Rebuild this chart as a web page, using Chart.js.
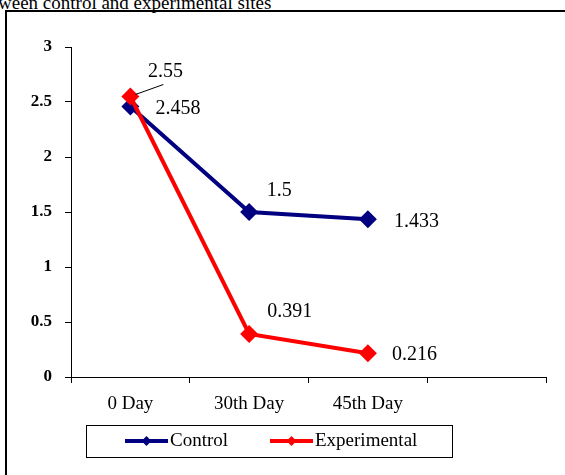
<!DOCTYPE html>
<html>
<head>
<meta charset="utf-8">
<script src="https://cdn.jsdelivr.net/npm/chart.js@4"></script>
<style>
  body { margin: 0; background: #fff; overflow: hidden; }
  #wrap { position: relative; width: 565px; height: 475px; overflow: hidden; }
  #cap { position: absolute; left: -2px; top: -7px; font: 19px "Liberation Serif", serif; line-height: 19px; white-space: nowrap; color: #000; }
  #frame { position: absolute; left: 5px; top: 10px; width: 700px; height: 600px; border: 2px solid #000; }
  canvas { position: absolute; left: 0; top: 0; }
</style>
</head>
<body>
<div id="wrap">
  <div id="cap">ween control and experimental sites</div>
  <div id="frame"></div>
  <canvas class="mychart" width="565" height="475"></canvas>
</div>
<script>
/* dados do grafico */
const categories = ['0 Day', '30th Day', '45th Day', '']
const controlValues = [2.458, 1.5, 1.433]
const experimentalValues = [2.55, 0.391, 0.216]
const yMin = 0, yMax = 3, yStep = 0.5

const serif = '"Liberation Serif", "Times New Roman", serif'
Chart.defaults.color = '#000'

// rotulos de valor ao lado dos pontos (dx, dy em px)
const labelOffsets = [
    [[25, 2, 'left'], [30, -21, 'center'], [26, 2, 'left']],
    [[35, -25, 'center'], [18, -22, 'left'], [24, 2, 'left']]
]

const valueLabels = {
    id: 'valueLabels',
    afterDatasetsDraw(chart) {
        const ctx = chart.ctx
        ctx.save()
        ctx.font = '20px ' + serif
        ctx.fillStyle = '#000'
        ctx.textBaseline = 'middle'
        chart.data.datasets.forEach((ds, di) => {
            const meta = chart.getDatasetMeta(di)
            meta.data.forEach((pt, i) => {
                const off = labelOffsets[di][i]
                const tx = pt.x + off[0], ty = pt.y + off[1]
                ctx.textAlign = off[2]
                ctx.fillText(String(ds.data[i]), tx, ty)
                if (di === 1 && i === 0) {
                    // linha de chamada do 2.55
                    ctx.strokeStyle = '#000'
                    ctx.lineWidth = 1
                    ctx.beginPath()
                    ctx.moveTo(tx - 2, ty + 13)
                    ctx.lineTo(pt.x + 5, pt.y - 2)
                    ctx.stroke()
                }
            })
        })
        ctx.restore()
    }
}

const boxLegend = {
    id: 'boxLegend',
    afterDraw(chart) {
        const ctx = chart.ctx
        ctx.save()
        ctx.strokeStyle = '#000'
        ctx.lineWidth = 1
        ctx.strokeRect(86.5, 425.5, 366, 32)
        const items = [
            { x: 125, ds: chart.data.datasets[0] },
            { x: 270, ds: chart.data.datasets[1] }
        ]
        const y = 441
        items.forEach(it => {
            ctx.strokeStyle = it.ds.borderColor
            ctx.fillStyle = it.ds.borderColor
            ctx.lineWidth = 4
            ctx.beginPath()
            ctx.moveTo(it.x, y)
            ctx.lineTo(it.x + 43, y)
            ctx.stroke()
            const cx = it.x + 21.5, r = 5
            ctx.beginPath()
            ctx.moveTo(cx, y - r); ctx.lineTo(cx + r, y); ctx.lineTo(cx, y + r); ctx.lineTo(cx - r, y)
            ctx.closePath()
            ctx.fill()
            ctx.fillStyle = '#000'
            ctx.font = '19px ' + serif
            ctx.textAlign = 'left'
            ctx.textBaseline = 'middle'
            ctx.fillText(it.ds.label, it.x + 45, y)
        })
        ctx.restore()
    }
}

let graf = document.querySelector('.mychart').getContext('2d')

const config = {
    type: 'line',
    data: {
        labels: categories,
        datasets: [
            {
                label: 'Control',
                data: controlValues,
                borderColor: '#000080',
                backgroundColor: '#000080',
                borderWidth: 4,
                pointStyle: 'rectRot',
                pointRadius: 9,
                pointBorderWidth: 0,
                order: 1
            },
            {
                label: 'Experimental',
                data: experimentalValues,
                borderColor: '#FF0000',
                backgroundColor: '#FF0000',
                borderWidth: 4,
                pointStyle: 'rectRot',
                pointRadius: 9,
                pointBorderWidth: 0,
                order: 0
            }
        ]
    },
    options: {
        responsive: false,
        animation: false,
        devicePixelRatio: 1,
        layout: { padding: { left: 0, top: 47, right: 19, bottom: 0 } },
        plugins: { legend: { display: false }, tooltip: { enabled: false } },
        scales: {
            x: {
                offset: true,
                grid: { offset: true, drawOnChartArea: false, drawTicks: true, tickLength: 6, color: '#000' },
                border: { color: '#000', width: 1 },
                ticks: { font: { family: serif, size: 19 }, padding: 10, maxRotation: 0 },
                afterFit(scale) { scale.height = 98 }
            },
            y: {
                min: yMin,
                max: yMax,
                grid: { drawOnChartArea: false, drawTicks: true, tickLength: 6, color: '#000' },
                border: { color: '#000', width: 1 },
                ticks: {
                    stepSize: yStep,
                    font: { family: serif, size: 17, weight: 'bold' },
                    padding: 13,
                    callback: v => String(v)
                },
                afterFit(scale) { scale.width = 71 }
            }
        }
    },
    plugins: [valueLabels, boxLegend]
}

var myChart = new Chart(graf, config)
</script>
</body>
</html>
